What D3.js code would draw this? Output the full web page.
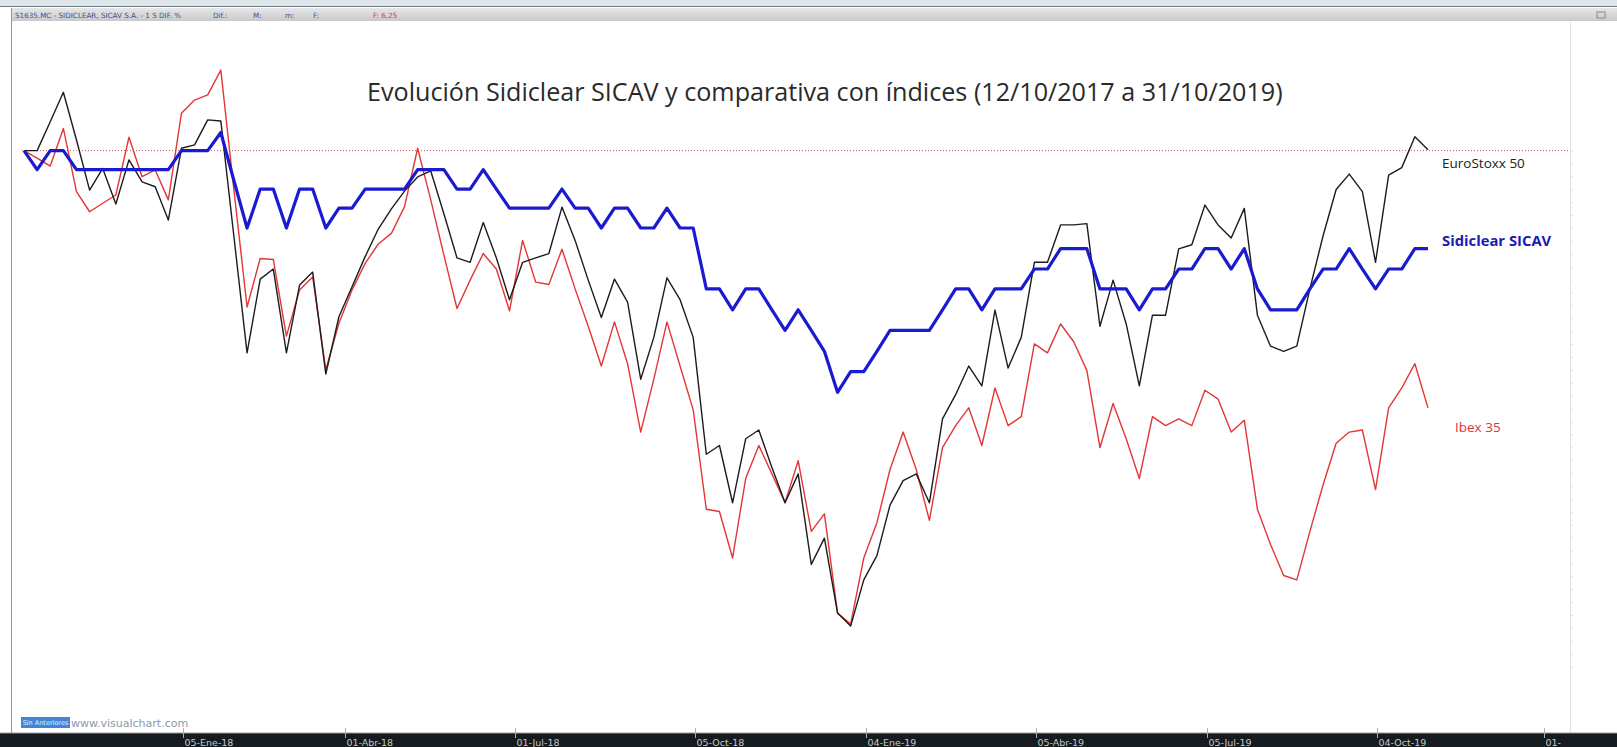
<!DOCTYPE html>
<html><head><meta charset="utf-8">
<script src="https://cdn.jsdelivr.net/npm/d3@7"></script>
<style>body{margin:0;background:#fff;overflow:hidden}svg{display:block}</style>
</head><body>
<svg id="c" width="1617" height="747"></svg>
<script>
// ---- DATA (weekly % change vs 12/10/2017) ----
const startDate = "2017-10-12";
const endDate = "2019-10-31";
const euroStoxx = [
 0,0,1.12,2.26,0.41,-1.53,-0.69,-2.07,-0.36,-1.21,
 -1.40,-2.69,0.09,0.22,1.19,1.15,-3.34,-7.84,-4.98,-4.59,
 -7.84,-5.21,-4.71,-8.66,-6.44,-5.28,-4.11,-3.04,-2.26,-1.57,
 -1.02,-0.79,-2.45,-4.16,-4.33,-2.79,-4.16,-5.78,-4.33,-4.16,
 -3.99,-2.19,-3.48,-5.02,-6.47,-4.98,-5.87,-8.86,-7.24,-4.93,
 -5.78,-7.24,-11.77,-11.43,-13.65,-11.17,-10.83,-12.28,-13.65,-12.53,
 -16.04,-15.02,-17.92,-18.43,-16.64,-15.70,-13.74,-12.79,-12.53,-13.65,
 -10.40,-9.46,-8.35,-9.12,-6.18,-8.43,-7.24,-4.33,-4.33,-2.88,
 -2.88,-2.83,-6.81,-5.02,-6.72,-9.12,-6.38,-6.38,-3.81,-3.65,
 -2.11,-2.88,-3.39,-2.24,-6.38,-7.58,-7.78,-7.58,-5.36,-3.31,
 -1.51,-0.91,-1.59,-4.33,-0.95,-0.66,0.54,0.03];
const ibex35 = [
 0,-0.29,-0.60,0.86,-1.59,-2.37,-2.04,-1.72,0.52,-1.01,
 -0.75,-1.91,1.45,1.96,2.16,3.12,-1.53,-6.06,-4.18,-4.22,
 -7.19,-5.40,-4.90,-8.50,-6.69,-5.40,-4.37,-3.62,-3.21,-2.17,
 0.09,-1.91,-4.05,-6.12,-5.02,-3.99,-4.59,-6.21,-3.48,-5.10,
 -5.19,-3.82,-5.36,-6.81,-8.35,-6.64,-8.26,-10.91,-8.86,-6.64,
 -8.35,-10.05,-13.90,-13.99,-15.79,-12.71,-11.43,-12.53,-13.65,-12.02,
 -14.76,-14.08,-17.92,-18.35,-15.79,-14.42,-12.36,-10.91,-12.36,-14.33,
 -11.51,-10.66,-9.97,-11.43,-9.20,-10.66,-10.31,-7.49,-7.84,-6.72,
 -7.41,-8.52,-11.51,-9.80,-11.17,-12.71,-10.31,-10.66,-10.40,-10.66,
 -9.29,-9.63,-10.91,-10.45,-13.90,-15.27,-16.47,-16.64,-14.76,-12.96,
 -11.34,-10.91,-10.83,-13.14,-9.97,-9.20,-8.26,-9.97];
const sidiclear = [
 0,-0.74,0,0,-0.74,-0.74,-0.74,-0.74,-0.74,-0.74,
 -0.74,-0.74,0,0,0,0.70,-1.17,-3.00,-1.49,-1.49,
 -3.00,-1.49,-1.49,-3.00,-2.23,-2.23,-1.49,-1.49,-1.49,-1.49,
 -0.74,-0.74,-0.74,-1.49,-1.49,-0.74,-1.49,-2.23,-2.23,-2.23,
 -2.23,-1.49,-2.23,-2.23,-3.00,-2.23,-2.23,-3.00,-3.00,-2.23,
 -3.00,-3.00,-5.36,-5.36,-6.17,-5.36,-5.36,-6.17,-6.97,-6.17,
 -6.97,-7.78,-9.37,-8.57,-8.57,-7.78,-6.97,-6.97,-6.97,-6.97,
 -6.17,-5.36,-5.36,-6.17,-5.36,-5.36,-5.36,-4.59,-4.59,-3.80,
 -3.80,-3.80,-5.36,-5.36,-5.36,-6.17,-5.36,-5.36,-4.59,-4.59,
 -3.80,-3.80,-4.59,-3.80,-5.36,-6.17,-6.17,-6.17,-5.36,-4.59,
 -4.59,-3.80,-4.59,-5.36,-4.59,-4.59,-3.80,-3.80];
const tickDates = ["2018-01-05","2018-04-01","2018-07-01","2018-10-05","2019-01-04","2019-04-05","2019-07-05","2019-10-04","2020-01-01"];
const tickLabels = ["05-Ene-18","01-Abr-18","01-Jul-18","05-Oct-18","04-Ene-19","05-Abr-19","05-Jul-19","04-Oct-19","01-"];
const titleText = "Evolución Sidiclear SICAV y comparativa con índices (12/10/2017 a 31/10/2019)";
const seriesNames = ["EuroStoxx 50","Sidiclear SICAV","Ibex 35"];
const headerText = "S1635.MC - SIDICLEAR, SICAV S.A. - 1 S DIF. %";
const headerFields = ["Dif.:","M:","m:","F:"];
const headerLast = "F: 6,25";

// ---- DRAW ----
const W = 1617, H = 747;
const svg = d3.select("#c");
const parse = d3.timeParse("%Y-%m-%d");
const t0 = parse(startDate);
const dates = euroStoxx.map((_, i) => d3.timeDay.offset(t0, 7 * i));
const x = d3.scaleTime().domain([t0, parse(endDate)]).range([24, 1428]);
const y = d3.scaleLinear().domain([0, -20]).range([150.6, 666.6]);

// top strips
svg.append("rect").attr("x",0).attr("y",0).attr("width",W).attr("height",7).attr("fill","#dfe6ea");
svg.append("line").attr("x1",0).attr("x2",W).attr("y1",6.5).attr("y2",6.5).attr("stroke","#6f808c");
const grad = svg.append("defs").append("linearGradient").attr("id","hg").attr("x1",0).attr("x2",0).attr("y1",0).attr("y2",1);
grad.append("stop").attr("offset","0%").attr("stop-color","#e6e6e6");
grad.append("stop").attr("offset","100%").attr("stop-color","#c9c9c9");
svg.append("rect").attr("x",11).attr("y",8).attr("width",W-11).attr("height",13).attr("fill","url(#hg)");
const hdr = svg.append("g").attr("font-family","DejaVu Sans, sans-serif").attr("font-size",7.2).attr("fill","#3b4f9c");
hdr.append("text").attr("x",15).attr("y",17.5).text(headerText);
[213,253,285,313].forEach((px,i)=>hdr.append("text").attr("x",px).attr("y",17.5).text(headerFields[i]));
hdr.append("text").attr("x",373).attr("y",17.5).attr("fill","#d23a3a").text(headerLast);
svg.append("rect").attr("x",1597).attr("y",12).attr("width",8).attr("height",6).attr("fill","none").attr("stroke","#888");

// frame lines
svg.append("line").attr("x1",11.5).attr("x2",11.5).attr("y1",8).attr("y2",733).attr("stroke","#8b98a3");
svg.append("line").attr("x1",1570.5).attr("x2",1570.5).attr("y1",22).attr("y2",733).attr("stroke","#e2e2e2");
const yAx = svg.append("g").attr("transform","translate(1570,0)")
  .call(d3.axisRight(y).ticks(30).tickSize(3).tickFormat(""));
yAx.select(".domain").remove();
yAx.selectAll("line").attr("stroke","#e4e4e4");

// baseline
svg.append("line").attr("x1",x(t0)-2).attr("x2",1570).attr("y1",y(0)).attr("y2",y(0))
  .attr("stroke","#d05050").attr("stroke-width",1).attr("stroke-dasharray","1,2");

// title
const title = svg.append("text").attr("x",367).attr("y",101)
  .attr("font-family","Open Sans, Noto Sans, sans-serif").attr("font-size",22).attr("fill","#2a2a2a").text(titleText);
const tl = title.node().getComputedTextLength();
title.attr("font-size", 22 * 916 / tl);

// lines
const line = d3.line().x((d,i)=>x(dates[i])).y(d=>y(d));
svg.append("path").datum(ibex35).attr("d",line).attr("fill","none").attr("stroke","#e53535").attr("stroke-width",1.4).attr("stroke-linejoin","round");
svg.append("path").datum(euroStoxx).attr("d",line).attr("fill","none").attr("stroke","#1c1c1c").attr("stroke-width",1.4).attr("stroke-linejoin","round");
svg.append("path").datum(sidiclear).attr("d",line).attr("fill","none").attr("stroke","#1a1ad0").attr("stroke-width",3.2).attr("stroke-linejoin","round");

// series labels
const lab = svg.append("g").attr("font-family","Open Sans, Noto Sans, sans-serif");
lab.append("text").attr("x",1442).attr("y",168).attr("font-size",13.5).attr("fill","#222").text(seriesNames[0]);
lab.append("text").attr("x",1442).attr("y",246).attr("font-size",14.8).attr("font-weight","bold").attr("fill","#1a1ab4").text(seriesNames[1]);
lab.append("text").attr("x",1455).attr("y",432).attr("font-size",13.5).attr("fill","#e03434").text(seriesNames[2]);

// watermark
svg.append("rect").attr("x",21).attr("y",717).attr("width",49).attr("height",11).attr("fill","#3f86d6");
svg.append("text").attr("x",45.5).attr("y",725).attr("text-anchor","middle").attr("font-family","DejaVu Sans, sans-serif")
  .attr("font-size",6.5).attr("fill","#e8f0ff").text("Sin Anteriores");
svg.append("text").attr("x",71).attr("y",726.5).attr("font-family","DejaVu Sans, sans-serif")
  .attr("font-size",11).attr("fill","#8c98a8").text("www.visualchart.com");

// bottom axis bar
svg.append("rect").attr("x",0).attr("y",733).attr("width",W).attr("height",H-733).attr("fill","#161b1f");
svg.append("line").attr("x1",0).attr("x2",W).attr("y1",733).attr("y2",733).attr("stroke","#9a9a9a");
const xa = svg.append("g");
tickDates.forEach((d,i)=>{
  const px = Math.round(x(parse(d))) + 0.5;
  xa.append("line").attr("x1",px).attr("x2",px).attr("y1",728).attr("y2",738).attr("stroke","#b0b0b0");
  xa.append("text").attr("x",px+1).attr("y",745.5).attr("font-family","DejaVu Sans, sans-serif")
    .attr("font-size",9.5).attr("fill","#c4c8cc").text(tickLabels[i]);
});
</script>
</body></html>
